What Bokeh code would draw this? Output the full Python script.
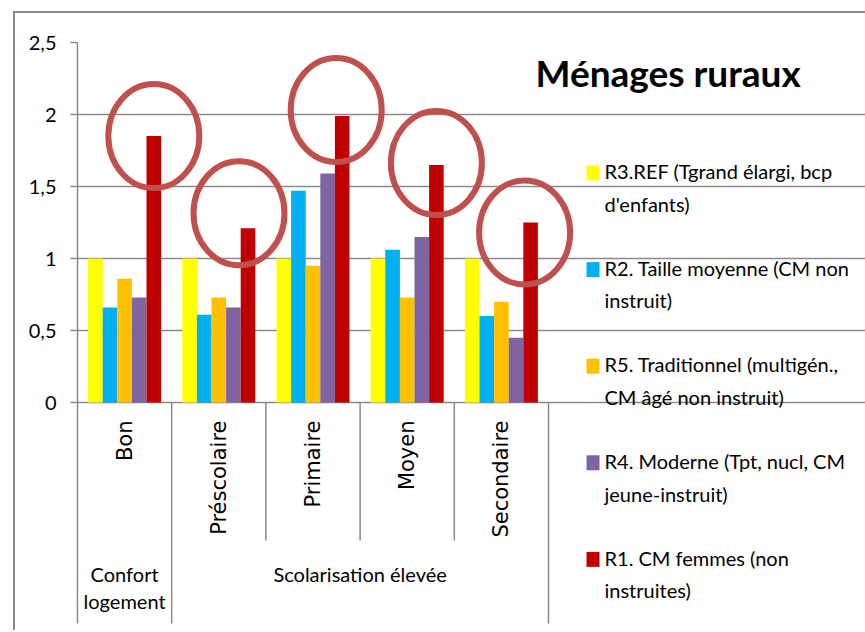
import numpy as np
from bokeh.plotting import figure
from bokeh.models import Range1d, FixedTicker
from bokeh.core.properties import value
from bokeh.embed import file_html
from bokeh.resources import INLINE

# ---------------- data ----------------
categories = ["Bon", "Préscolaire", "Primaire", "Moyen", "Secondaire"]
groups = ["Confort\nlogement", "Scolarisation élevée"]
group_sizes = [1, 4]

series_names = [
    "R3.REF (Tgrand élargi, bcp\nd'enfants)",
    "R2. Taille moyenne (CM non\ninstruit)",
    "R5. Traditionnel  (multigén.,\nCM âgé non instruit)",
    "R4. Moderne (Tpt, nucl, CM\njeune-instruit)",
    "R1. CM femmes (non\ninstruites)",
]
r3_ref = [1.00, 1.00, 1.00, 1.00, 1.00]
r2_taille = [0.66, 0.61, 1.47, 1.06, 0.60]
r5_trad = [0.86, 0.73, 0.95, 0.73, 0.70]
r4_moderne = [0.73, 0.66, 1.59, 1.15, 0.45]
r1_femmes = [1.85, 1.21, 1.99, 1.65, 1.25]

y_ticks = [0, 0.5, 1, 1.5, 2, 2.5]
y_tick_labels = ["0", "0,5", "1", "1,5", "2", "2,5"]
title_text = "Ménages ruraux"

# ---------------- styles / layout ----------------
series_colors = ["#FFFF00", "#00B0F0", "#FFC000", "#8064A2", "#C00000"]
ellipse_color = "#C0504D"
gray = "#8a8a8a"
FONT = "Lato"

W, H = 865, 630
FRAME_L, FRAME_T = 77, 42
ZERO_Y = 402
CAT_W = 94.2
Y_MAX = 2.5
UNIT_PX = (ZERO_Y - FRAME_T) / Y_MAX
x_end = (W - FRAME_L) / CAT_W
y_start = Y_MAX - (H - FRAME_T) / UNIT_PX
BASE_FIX = 10      # px correction for alphabetic baseline (20px text)
TITLE_FIX = 15     # px correction for the title


def dx(px):
    return (px - FRAME_L) / CAT_W


def dy(py):
    return Y_MAX - (py - FRAME_T) / UNIT_PX


p = figure(width=W, height=H, output_backend="svg", toolbar_location=None,
           x_range=Range1d(0, x_end), y_range=Range1d(y_start, Y_MAX),
           x_axis_location=None,
           min_border_left=FRAME_L, min_border_top=FRAME_T,
           min_border_right=0, min_border_bottom=0)
p.outline_line_color = None
p.background_fill_color = "white"
p.border_fill_color = None
# outer chart border (left and top edges, the rest lies off the page)
p.styles = {
    "background-color": "white",
    "background-image": f"linear-gradient({gray}, {gray}), linear-gradient({gray}, {gray})",
    "background-position": "13px 11px, 13px 11px",
    "background-size": "900px 2px, 2px 700px",
    "background-repeat": "no-repeat",
}

# y axis
yax = p.yaxis[0]
yax.ticker = FixedTicker(ticks=y_ticks)
yax.major_label_overrides = dict(zip(y_ticks, y_tick_labels))
yax.bounds = (dy(623), Y_MAX)
yax.major_tick_out = 7
yax.major_tick_in = 0
yax.minor_tick_out = 0
yax.minor_tick_in = 0
yax.axis_line_color = gray
yax.axis_line_width = 1.5
yax.major_tick_line_color = gray
yax.major_tick_line_width = 1.5
yax.major_label_text_font = FONT
yax.major_label_text_font_size = "20px"
yax.major_label_text_color = "black"
yax.major_label_standoff = 14

p.xgrid.visible = False
p.ygrid.ticker = FixedTicker(ticks=y_ticks)
p.ygrid.bounds = (0, len(categories))
p.ygrid.grid_line_color = gray
p.ygrid.grid_line_width = 1.5

# bars
series = [r3_ref, r2_taille, r5_trad, r4_moderne, r1_femmes]
n = len(series)
bw = 0.155
idx = np.arange(len(categories))
for j, (vals, col) in enumerate(zip(series, series_colors)):
    xs = idx + 0.5 + (j - (n - 1) / 2) * bw
    p.vbar(x=xs, top=vals, bottom=0, width=bw, fill_color=col, line_color=None)

# ellipses around the R1 bars (hand-placed nudges in px)
ell_dx_px = [0, -9, -6, 0, -6]
ell_dy_px = [0, -15, -6, -2, 10]
ell_x = idx + 0.5 + 2 * bw + np.array(ell_dx_px) / CAT_W
ell_y = np.array(r1_femmes) - np.array(ell_dy_px) / UNIT_PX
p.ellipse(x=ell_x, y=ell_y, width=91, height=104, width_units="screen",
          height_units="screen", fill_color=None, line_color=ellipse_color,
          line_width=6)

# category separators below the axis
bounds = list(np.cumsum(group_sizes))
sep_x = list(range(1, len(categories) + 1))
sep_end = [dy(623) if x in bounds else dy(540) for x in sep_x]
p.segment(x0=sep_x, y0=[0] * len(sep_x), x1=sep_x, y1=sep_end,
          line_color=gray, line_width=1.5)

# category labels (rotated)
p.text(x=idx + 0.5, y=[dy(420)] * len(categories), text=categories,
       angle=np.pi / 2, text_align="right", text_baseline="middle",
       text_font=value("DejaVu Sans"), text_font_size="21px", text_color="black")

# group labels
start = 0
for name, size in zip(groups, group_sizes):
    for k, line in enumerate(name.split("\n")):
        p.text(x=[start + size / 2], y=[dy(583 + k * 27 - BASE_FIX)], text=[line],
               text_align="center", text_baseline="alphabetic",
               text_font=value(FONT), text_font_size="20px", text_color="black")
    start += size

# title
p.text(x=[dx(535)], y=[dy(87 - TITLE_FIX)], text=[title_text], text_align="left",
       text_baseline="alphabetic", text_font=value(FONT),
       text_font_style="bold", text_font_size="37px", text_color="black")

# legend (manual)
step = 96.6 / UNIT_PX
for j, (name, col) in enumerate(zip(series_names, series_colors)):
    p.rect(x=[dx(592.5)], y=[dy(172.5) - j * step], width=13, height=15,
           width_units="screen", height_units="screen", fill_color=col,
           line_color=None)
    for k, line in enumerate(name.split("\n")):
        p.text(x=[dx(604)], y=[dy(180.7 + k * 32.5 - BASE_FIX) - j * step],
               text=[line], text_align="left", text_baseline="alphabetic",
               text_font=value(FONT), text_font_size="20px", text_color="black")

open("out.html", "w").write(file_html(p, INLINE))
